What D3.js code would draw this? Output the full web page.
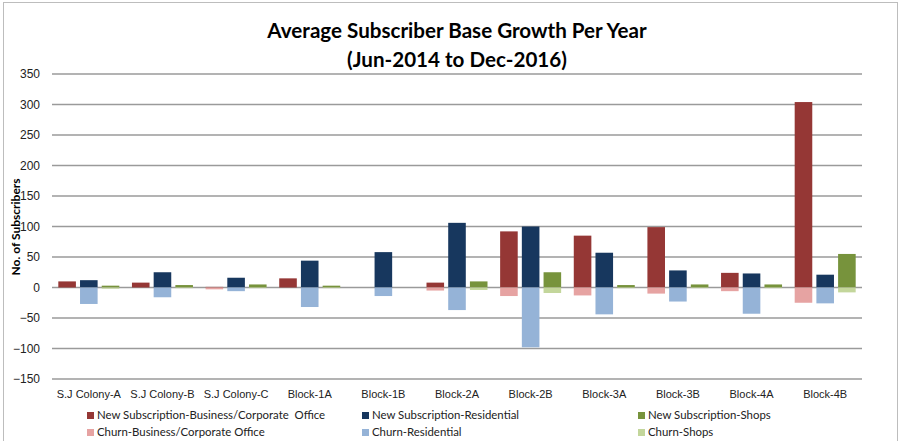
<!DOCTYPE html>
<html>
  <head>
    <meta charset="utf-8">
    <title>Average Subscriber Base Growth Per Year</title>
    <script src="https://cdnjs.cloudflare.com/ajax/libs/d3/7.8.5/d3.min.js"></script>
    <style>
      body { margin: 0; background: #fff; }
      svg { display: block; font-family: Lato, "Open Sans", sans-serif; }
      .tick text { fill: #222; }
    </style>
  </head>
  <body>
    <script>

      var outerWidth = 901;
      var outerHeight = 441;

      var categories = ["S.J Colony-A", "S.J Colony-B", "S.J Colony-C", "Block-1A", "Block-1B",
        "Block-2A", "Block-2B", "Block-3A", "Block-3B", "Block-4A", "Block-4B"];

      // positive parts (new subscriptions)
      var newBusiness    = [10, 8, 1, 15, 0, 8, 92, 85, 99, 24, 304];
      var newResidential = [12, 25, 16, 44, 58, 106, 100, 57, 28, 23, 21];
      var newShops       = [3, 4, 5, 3, 0, 10, 25, 4, 5, 5, 55];

      // negative parts (churn)
      var churnBusiness    = [0, 0, -3, 0, 0, -5, -14, -13, -10, -6, -25];
      var churnResidential = [-27, -16, -6, -32, -14, -37, -98, -44, -23, -43, -26];
      var churnShops       = [-2, -1, -1, -1, 0, -4, -9, -1, -1, -1, -8];

      var yTicks = [-150, -100, -50, 0, 50, 100, 150, 200, 250, 300, 350];

      var groups = ["business", "residential", "shops"];
      var colors = {
        newBusiness: "#953735", churnBusiness: "#e6a3a2",
        newResidential: "#17375e", churnResidential: "#95b3d7",
        newShops: "#77933c", churnShops: "#c3d69b"
      };

      var legendItems = [
        { label: "New Subscription-Business/Corporate  Office", color: colors.newBusiness, x: 87, y: 419 },
        { label: "Churn-Business/Corporate Office", color: colors.churnBusiness, x: 87, y: 436 },
        { label: "New Subscription-Residential", color: colors.newResidential, x: 362, y: 419 },
        { label: "Churn-Residential", color: colors.churnResidential, x: 362, y: 436 },
        { label: "New Subscription-Shops", color: colors.newShops, x: 638, y: 419 },
        { label: "Churn-Shops", color: colors.churnShops, x: 638, y: 436 }
      ];

      // build rows for the bars from the arrays
      var bars = [];
      categories.forEach(function (c, i) {
        bars.push({ cat: c, grp: "business", v: newBusiness[i], color: colors.newBusiness });
        bars.push({ cat: c, grp: "business", v: churnBusiness[i], color: colors.churnBusiness });
        bars.push({ cat: c, grp: "residential", v: newResidential[i], color: colors.newResidential });
        bars.push({ cat: c, grp: "residential", v: churnResidential[i], color: colors.churnResidential });
        bars.push({ cat: c, grp: "shops", v: newShops[i], color: colors.newShops });
        bars.push({ cat: c, grp: "shops", v: churnShops[i], color: colors.churnShops });
      });

      var plotLeft = 52, plotRight = 862, plotTop = 74, plotBottom = 379;

      var svg = d3.select("body").append("svg")
        .attr("width", outerWidth)
        .attr("height", outerHeight);

      // frame
      svg.append("rect")
        .attr("x", 3.5).attr("y", 2.5)
        .attr("width", 894).attr("height", 460)
        .attr("fill", "none")
        .attr("stroke", "#bdbdbd");

      var x0 = d3.scaleBand().domain(categories).range([plotLeft, plotRight]).padding(0);
      var x1 = d3.scaleBand().domain(groups)
        .range([x0.bandwidth() / 2 - 30.5, x0.bandwidth() / 2 + 30.5])
        .paddingInner(0.19);
      var y = d3.scaleLinear().domain([-150, 350]).range([plotBottom, plotTop]);

      // gridlines
      svg.append("g")
        .selectAll("line")
        .data(yTicks)
        .enter().append("line")
        .attr("x1", plotLeft).attr("x2", plotRight)
        .attr("y1", function (d) { return y(d); })
        .attr("y2", function (d) { return y(d); })
        .attr("stroke", "#9a9a9a")
        .attr("stroke-width", 1.3);

      // y axis labels
      var yAxisG = svg.append("g")
        .attr("transform", "translate(" + (plotLeft - 4) + ",0)")
        .call(d3.axisLeft(y).tickValues(yTicks).tickSize(0).tickPadding(8));
      yAxisG.select(".domain").remove();
      yAxisG.selectAll("text").style("font-size", "12px");

      // x axis labels
      var xAxisG = svg.append("g")
        .attr("transform", "translate(0," + plotBottom + ")")
        .call(d3.axisBottom(x0).tickSize(0).tickPadding(11));
      xAxisG.select(".domain").remove();
      xAxisG.selectAll("text").style("font-size", "11px");

      // bars
      svg.append("g")
        .selectAll("rect")
        .data(bars.filter(function (d) { return d.v !== 0; }))
        .enter().append("rect")
        .attr("x", function (d) { return x0(d.cat) + x1(d.grp); })
        .attr("width", x1.bandwidth())
        .attr("y", function (d) { return Math.min(y(d.v), y(0)); })
        .attr("height", function (d) { return Math.abs(y(d.v) - y(0)); })
        .attr("fill", function (d) { return d.color; });

      // title
      svg.append("text")
        .attr("x", 457).attr("y", 38)
        .attr("text-anchor", "middle")
        .style("font-size", "20.6px").style("font-weight", "bold")
        .text("Average Subscriber Base Growth Per Year");
      svg.append("text")
        .attr("x", 457).attr("y", 67)
        .attr("text-anchor", "middle")
        .style("font-size", "20.6px").style("font-weight", "bold")
        .text("(Jun-2014 to Dec-2016)");

      // y axis title
      svg.append("text")
        .attr("transform", "translate(20,227) rotate(-90)")
        .attr("text-anchor", "middle")
        .style("font-size", "12px").style("font-weight", "bold")
        .text("No. of Subscribers");

      // legend
      var leg = svg.append("g").selectAll("g")
        .data(legendItems)
        .enter().append("g")
        .attr("transform", function (d) { return "translate(" + d.x + "," + d.y + ")"; });
      leg.append("rect")
        .attr("x", 0).attr("y", -7)
        .attr("width", 7).attr("height", 7)
        .attr("fill", function (d) { return d.color; });
      leg.append("text")
        .attr("x", 10).attr("y", 0)
        .style("font-size", "11.4px")
        .style("white-space", "pre")
        .attr("fill", "#222")
        .text(function (d) { return d.label; });

    </script>
  </body>
</html>
